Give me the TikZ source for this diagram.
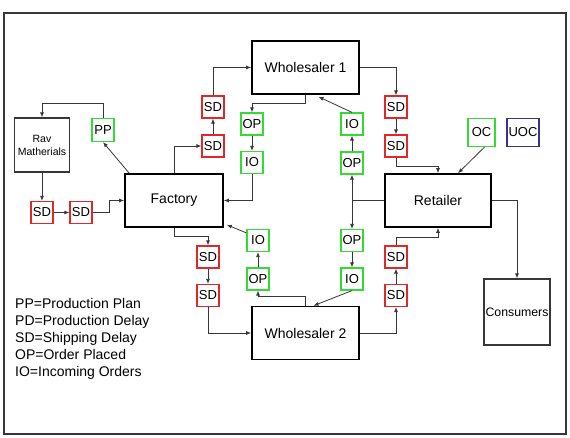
\documentclass[tikz,border=0pt]{standalone}
\usepackage{fontspec}
\setmainfont{Liberation Sans}
\usetikzlibrary{arrows.meta}

\definecolor{sdred}{RGB}{225,40,40}
\definecolor{opgreen}{RGB}{50,220,50}
\definecolor{uocblue}{RGB}{55,50,140}
\definecolor{wire}{RGB}{55,55,55}

\tikzset{
  big/.style={draw, line width=1.6pt, minimum width=98pt, minimum height=53pt, inner sep=0pt, font=\fontsize{14}{16}\selectfont},
  plain/.style={draw=wire, line width=1.1pt, inner sep=0pt, align=center},
  tag/.style={line width=1.2pt, minimum width=22pt, minimum height=22pt, inner sep=0pt, font=\fontsize{13}{15}\selectfont},
  sd/.style={tag, draw=sdred},
  gr/.style={tag, draw=opgreen},
  arr/.style={-{Latex[length=5pt,width=4pt]}, draw=wire, line width=0.8pt},
  ln/.style={draw=wire, line width=0.8pt}
}

\begin{document}
\begin{tikzpicture}[x=1pt, y=-1pt]
    \useasboundingbox (0,0) rectangle (570,438);
    \draw[wire, line width=1.1pt] (4,13) rectangle (566,434);

    % Main actors
    \node (fac) at (174,200.5) [big] {Factory};
    \node (w1) at (305.5,67.5) [big, minimum width=107pt] {Wholesaler 1};
    \node (w2) at (305.5,333) [big, minimum width=107pt] {Wholesaler 2};
    \node (ret) at (438,200.5) [big, minimum width=106pt] {Retailer};
    \node (rav) at (42,145) [plain, minimum width=55pt, minimum height=54pt, font=\fontsize{10.5}{13}\selectfont] {Rav\\Matherials};
    \node (con) at (517,312) [plain, minimum width=66pt, minimum height=66pt, font=\fontsize{12.3}{14}\selectfont] {Consumers};

    % Factory side
    \node (pp) at (103,130) [gr, minimum height=23pt] {PP};
    \node (sdr1) at (42,212.5) [sd] {SD};
    \node (sdr2) at (81,212.5) [sd] {SD};
    \node (sdu1) at (213,146) [sd] {SD};
    \node (sdu2) at (213,107) [sd] {SD};
    \node (sdd1) at (208,257) [sd] {SD};
    \node (sdd2) at (208,295.5) [sd] {SD};

    % Orders between factory and wholesalers
    \node (op1) at (252,124) [gr] {OP};
    \node (io1) at (252,162.5) [gr] {IO};
    \node (io2) at (258,240.5) [gr] {IO};
    \node (op2) at (258,279) [gr] {OP};

    % Orders between wholesalers and retailer
    \node (io3) at (352,124) [gr] {IO};
    \node (op3) at (352,163) [gr] {OP};
    \node (op4) at (352,240.5) [gr] {OP};
    \node (io4) at (352,279) [gr] {IO};

    % Retailer side
    \node (sdw1) at (396,107) [sd] {SD};
    \node (sdw2) at (396,146) [sd] {SD};
    \node (sdv2) at (396,257) [sd] {SD};
    \node (sdv1) at (396,295.5) [sd] {SD};
    \node (oc) at (481.5,132.5) [gr, minimum width=27pt, minimum height=28pt] {OC};
    \node (uoc) at (523,132.5) [tag, draw=uocblue, minimum width=32pt, minimum height=28pt] {UOC};

    % Legend
    \node (key) at (15,298) [anchor=north west, inner sep=0pt, align=left, font=\fontsize{14}{17}\selectfont] {PP=Production Plan\\PD=Production Delay\\SD=Shipping Delay\\OP=Order Placed\\IO=Incoming Orders};

    % Raw material loop
    \draw[arr] (pp.north) -- ++(0,-14) -| (rav.north);
    \draw[arr] (rav) -- (sdr1);
    \draw[arr] (sdr1) -- (sdr2);
    \draw[arr] (sdr2.east) -- ++(17,0) |- (fac.west);
    \draw[arr] ([xshift=5pt]fac.north west) -- (pp.south);

    % Shipments factory -> wholesalers
    \draw[arr] (fac.north) |- (sdu1.west);
    \draw[arr] (sdu1) -- (sdu2);
    \draw[arr] (sdu2.north) |- (w1.west);
    \draw[arr] (fac.south) -- ++(0,9) -| (sdd1.north);
    \draw[arr] (sdd1) -- (sdd2);
    \draw[arr] (sdd2.south) |- (w2.west);

    % Orders wholesalers -> factory
    \draw[arr] (w1.south) -- ++(0,9) -| (op1.north);
    \draw[arr] (op1) -- (io1);
    \draw[arr] (io1.south) |- (fac.east);
    \draw[arr] (w2.north) -- ++(0,-9) -| (op2.south);
    \draw[arr] (op2) -- (io2);
    \draw[arr] ([yshift=-4pt]io2.north west) -- ([xshift=3pt,yshift=3pt]fac.south east);

    % Orders retailer -> wholesalers
    \draw[ln] (ret.west) -- (op3.south |- ret.west);
    \draw[arr, {Latex[length=5pt,width=4pt]}-{Latex[length=5pt,width=4pt]}] (op3) -- (op4);
    \draw[arr] (op3) -- (io3);
    \draw[arr] (io3.north) -- ([xshift=13pt,yshift=-2pt]w1.south);
    \draw[arr] (op4) -- (io4);
    \draw[arr] (io4.south) -- ([xshift=8pt]w2.north);

    % Shipments wholesalers -> retailer
    \draw[arr] (w1.east) -| (sdw1.north);
    \draw[arr] (sdw1) -- (sdw2);
    \draw[arr] (sdw2.south) -- ++(0,9) -| (ret.north);
    \draw[arr] (w2.east) -| (sdv1.south);
    \draw[arr] (sdv1) -- (sdv2);
    \draw[arr] (sdv2.north) -- ++(0,-8) -| (ret.south);

    % Customer orders and deliveries
    \draw[arr] ([xshift=3pt]oc.south) -- ([xshift=20pt]ret.north);
    \draw[arr] (ret.east) -| (con.north);
\end{tikzpicture}
\end{document}
